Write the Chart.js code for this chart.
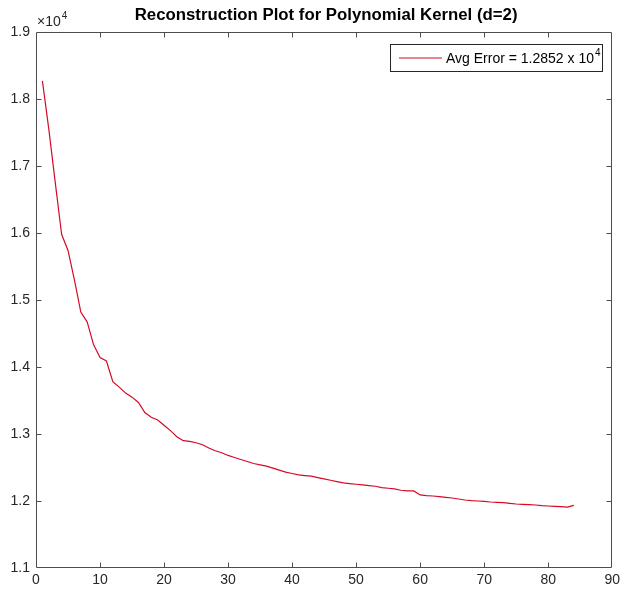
<!DOCTYPE html>
<html><head><meta charset="utf-8">
<script src="https://cdn.jsdelivr.net/npm/chart.js@4"></script>
<style>html,body{margin:0;padding:0;background:#fff}#wrap{width:624px;height:589px}</style>
</head><body><div id="wrap"><canvas id="c" width="624" height="589"></canvas></div>
<script>
const iterations = [1,2,3,4,5,6,7,8,9,10,11,12,13,14,15,16,17,18,19,20,21,22,23,24,25,26,27,28,29,30,31,32,33,34,35,36,37,38,39,40,41,42,43,44,45,46,47,48,49,50,51,52,53,54,55,56,57,58,59,60,61,62,63,64,65,66,67,68,69,70,71,72,73,74,75,76,77,78,79,80,81,82,83,84];
const avgError = [18270,17550,16760,15980,15740,15300,14820,14670,14330,14140,14090,13780,13700,13610,13550,13470,13320,13250,13210,13130,13050,12960,12900,12890,12870,12840,12790,12750,12720,12680,12650,12620,12590,12560,12540,12520,12490,12460,12430,12410,12390,12380,12370,12350,12330,12310,12290,12270,12260,12250,12240,12230,12220,12200,12190,12180,12160,12150,12150,12090,12080,12075,12065,12055,12045,12030,12015,12005,12000,11995,11985,11980,11975,11965,11955,11950,11945,11940,11930,11925,11920,11915,11910,11935];
const xTicks = [0,10,20,30,40,50,60,70,80,90];
const yTicks = [11000,12000,13000,14000,15000,16000,17000,18000,19000];
const yScaleFactor = 10000;
const titleText = 'Reconstruction Plot for Polynomial Kernel (d=2)';
const legendLabel = 'Avg Error = 1.2852 x 10';
const legendExp = '4';
const exponentBase = '\u00d710';
const exponentPow = '4';

const FONT = "'Liberation Sans', Arial, Helvetica, sans-serif";
const AXIS_COLOR = '#4d4d4d';
const TEXT_COLOR = '#262626';
const LINE_COLOR = '#d40a26';

const matlabFrame = {
  id: 'matlabFrame',
  afterDraw(chart) {
    const ctx = chart.ctx;
    const a = chart.chartArea;
    const xs = chart.scales.x, ys = chart.scales.y;
    ctx.save();
    ctx.strokeStyle = AXIS_COLOR;
    ctx.lineWidth = 1;
    const L = Math.round(a.left) + 0.5, R = Math.round(a.right) - 0.5;
    const T = Math.round(a.top) + 0.5, B = Math.round(a.bottom) - 0.5;
    ctx.beginPath();
    ctx.rect(L, T, R - L, B - T);
    ctx.stroke();
    const tl = 5;
    ctx.beginPath();
    xTicks.forEach(v => {
      if (v === xs.min || v === xs.max) return;
      const px = Math.round(xs.getPixelForValue(v)) + 0.5;
      ctx.moveTo(px, B); ctx.lineTo(px, B - tl);
      ctx.moveTo(px, T); ctx.lineTo(px, T + tl);
    });
    yTicks.forEach(v => {
      if (v === ys.min || v === ys.max) return;
      const py = Math.round(ys.getPixelForValue(v)) + 0.5;
      ctx.moveTo(L, py); ctx.lineTo(L + tl, py);
      ctx.moveTo(R, py); ctx.lineTo(R - tl, py);
    });
    ctx.stroke();

    // title
    ctx.fillStyle = '#000';
    ctx.font = 'bold 16.8px ' + FONT;
    ctx.textAlign = 'center';
    ctx.textBaseline = 'alphabetic';
    ctx.fillText(titleText, (a.left + a.right) / 2 + 2, 20);

    // exponent label
    ctx.fillStyle = TEXT_COLOR;
    ctx.textAlign = 'left';
    ctx.font = '14px ' + FONT;
    ctx.fillText(exponentBase, a.left + 1, 26);
    const w1 = ctx.measureText(exponentBase).width;
    ctx.font = '10px ' + FONT;
    ctx.fillText(exponentPow, a.left + 2 + w1, 19);

    // legend
    const bx = 390.5, by = 44.5, bw = 212, bh = 27;
    ctx.fillStyle = '#fff';
    ctx.fillRect(bx, by, bw, bh);
    ctx.strokeStyle = '#262626';
    ctx.strokeRect(bx, by, bw, bh);
    const ds = chart.data.datasets[0];
    ctx.strokeStyle = ds.borderColor;
    ctx.lineWidth = 1.2;
    ctx.beginPath();
    ctx.moveTo(399, 58); ctx.lineTo(442, 58);
    ctx.stroke();
    ctx.fillStyle = '#000';
    ctx.font = '14px ' + FONT;
    ctx.fillText(ds.label, 446, 63);
    const w2 = ctx.measureText(ds.label).width;
    ctx.font = '10px ' + FONT;
    ctx.fillText(legendExp, 446 + w2 + 1, 56);
    ctx.restore();
  }
};

new Chart(document.getElementById('c'), {
  type: 'line',
  data: {
    datasets: [{
      label: legendLabel,
      data: iterations.map((x, i) => ({ x: x, y: avgError[i] })),
      borderColor: LINE_COLOR,
      borderWidth: 1.2,
      pointRadius: 0,
      fill: false,
      tension: 0
    }]
  },
  options: {
    responsive: false,
    animation: false,
    devicePixelRatio: 1,
    layout: { padding: { top: 32, right: 7, left: 0, bottom: 0 }, autoPadding: false },
    plugins: { legend: { display: false }, tooltip: { enabled: false }, title: { display: false } },
    scales: {
      x: {
        type: 'linear', min: 0, max: 90,
        afterBuildTicks: s => { s.ticks = xTicks.map(v => ({ value: v })); },
        afterFit: s => { s.height = 21; },
        grid: { display: false, drawTicks: false },
        border: { display: false },
        ticks: { font: { family: FONT, size: 14 }, color: TEXT_COLOR, padding: 4, maxRotation: 0, autoSkip: false }
      },
      y: {
        type: 'linear', min: 11000, max: 19000,
        afterBuildTicks: s => { s.ticks = yTicks.map(v => ({ value: v })); },
        afterFit: s => { s.width = 36; },
        grid: { display: false, drawTicks: false },
        border: { display: false },
        ticks: { font: { family: FONT, size: 14 }, color: TEXT_COLOR, padding: 6, autoSkip: false,
          callback: v => (v / yScaleFactor).toFixed(1) }
      }
    }
  },
  plugins: [matlabFrame]
});
</script></body></html>
